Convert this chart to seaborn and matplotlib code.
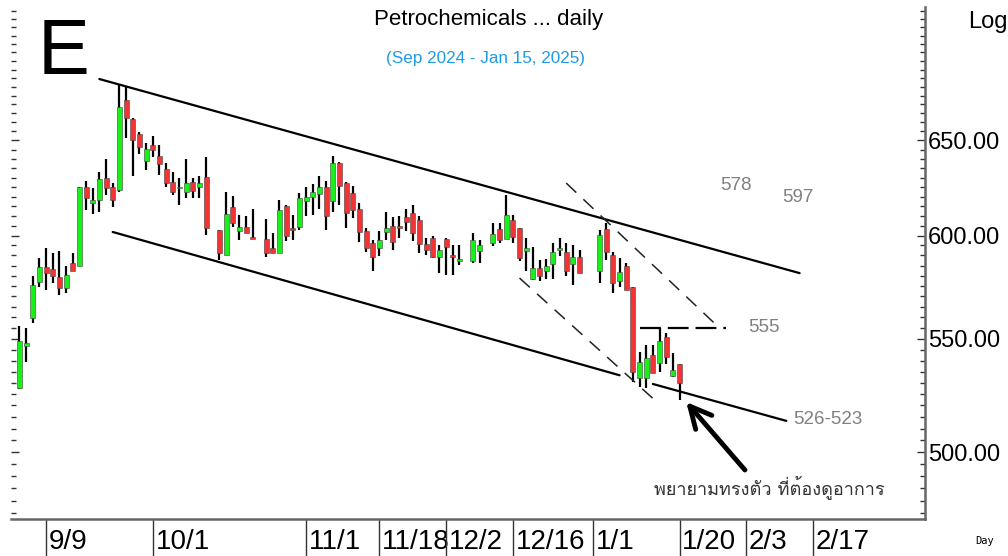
import numpy as np
import pandas as pd
import matplotlib
matplotlib.use("Agg")
import matplotlib.pyplot as plt
import matplotlib.ticker as mticker
from matplotlib import font_manager
from matplotlib.ft2font import FT2Font
from matplotlib.transforms import ScaledTranslation
import seaborn as sns

# daily candles (price, log scale)
dates = ["2024-09-03", "2024-09-04", "2024-09-05", "2024-09-06", "2024-09-09", "2024-09-10",
         "2024-09-11", "2024-09-12", "2024-09-13", "2024-09-16", "2024-09-17", "2024-09-18",
         "2024-09-19", "2024-09-20", "2024-09-23", "2024-09-24", "2024-09-25", "2024-09-26",
         "2024-09-27", "2024-09-30", "2024-10-01", "2024-10-02", "2024-10-03", "2024-10-04",
         "2024-10-07", "2024-10-08", "2024-10-09", "2024-10-10", "2024-10-11", "2024-10-15",
         "2024-10-16", "2024-10-17", "2024-10-18", "2024-10-21", "2024-10-22", "2024-10-24",
         "2024-10-25", "2024-10-28", "2024-10-29", "2024-10-30", "2024-10-31", "2024-11-01",
         "2024-11-04", "2024-11-05", "2024-11-06", "2024-11-07", "2024-11-08", "2024-11-11",
         "2024-11-12", "2024-11-13", "2024-11-14", "2024-11-15", "2024-11-18", "2024-11-19",
         "2024-11-20", "2024-11-21", "2024-11-22", "2024-11-25", "2024-11-26", "2024-11-27",
         "2024-11-28", "2024-11-29", "2024-12-02", "2024-12-03", "2024-12-04", "2024-12-06",
         "2024-12-09", "2024-12-11", "2024-12-12", "2024-12-13", "2024-12-16", "2024-12-17",
         "2024-12-18", "2024-12-19", "2024-12-20", "2024-12-23", "2024-12-24", "2024-12-25",
         "2024-12-26", "2024-12-27", "2024-12-30", "2025-01-02", "2025-01-03", "2025-01-06",
         "2025-01-07", "2025-01-08", "2025-01-09", "2025-01-10", "2025-01-13", "2025-01-14",
         "2025-01-15", "2025-01-16", "2025-01-17", "2025-01-20"]
opens = [527.7, 546.7, 559.7, 576.9, 584.3, 583.3, 579.4, 574.1, 586.3, 584.8, 625.0, 616.6,
         618.2, 629.8, 625.0, 623.4, 672.5, 661.9, 653.5, 638.9, 647.5, 641.5, 634.5, 627.6,
         624.5, 622.4, 627.6, 625.0, 630.3, 602.8, 590.2, 614.6, 602.3, 604.3, 599.2, 598.2,
         593.7, 591.2, 615.1, 603.8, 604.3, 617.7, 619.8, 621.3, 625.0, 617.7, 637.8, 627.1,
         621.8, 613.5, 602.3, 596.2, 593.7, 601.8, 604.8, 604.8, 609.4, 611.5, 607.9, 595.7,
         598.7, 589.2, 598.2, 590.2, 587.3, 587.3, 592.2, 596.2, 603.3, 598.2, 607.9, 603.8,
         592.2, 578.4, 583.8, 582.3, 585.8, 592.7, 591.7, 585.8, 589.2, 582.3, 603.3, 590.2,
         577.6, 584.8, 574.5, 532.2, 532.2, 542.6, 539.0, 550.9, 533.1, 538.5]
highs = [556.0, 555.0, 579.9, 588.8, 593.7, 591.2, 592.2, 584.8, 591.2, 625.0, 628.2, 624.5,
         633.0, 639.9, 627.1, 681.1, 679.9, 662.4, 654.6, 648.5, 652.4, 647.5, 637.8, 633.0,
         629.8, 639.9, 629.8, 630.8, 641.0, 602.8, 622.4, 620.2, 610.5, 609.9, 613.5, 608.4,
         601.3, 618.2, 615.6, 610.5, 621.8, 625.0, 626.6, 630.8, 628.2, 641.5, 638.3, 627.6,
         625.6, 616.6, 603.8, 597.7, 602.3, 612.0, 609.4, 609.9, 613.5, 615.6, 609.9, 598.7,
         599.7, 595.2, 598.7, 595.2, 595.2, 601.3, 597.7, 606.3, 606.3, 620.8, 610.5, 603.8,
         598.7, 594.2, 587.8, 588.3, 596.2, 598.7, 596.2, 595.2, 592.7, 602.8, 606.3, 591.7,
         588.8, 586.3, 574.5, 544.0, 547.2, 547.2, 555.0, 552.8, 543.3, 538.5]
lows = [527.2, 539.4, 557.4, 574.5, 573.1, 576.4, 570.7, 571.7, 582.3, 584.8, 613.0, 610.9,
        612.0, 620.8, 614.6, 622.4, 651.3, 630.8, 642.6, 634.0, 641.0, 631.3, 625.0, 620.8,
        615.6, 619.2, 619.2, 619.2, 600.3, 587.8, 590.2, 604.3, 597.7, 601.3, 598.2, 589.2,
        591.2, 591.2, 597.2, 597.7, 602.8, 609.9, 610.5, 613.5, 602.8, 612.0, 615.6, 603.8,
        608.9, 596.7, 591.7, 582.3, 589.7, 597.7, 592.7, 598.7, 602.3, 597.2, 591.2, 590.2,
        588.8, 581.3, 580.4, 580.4, 585.3, 586.3, 586.3, 594.7, 596.2, 598.2, 596.2, 587.3,
        582.3, 577.9, 577.6, 578.4, 578.4, 589.7, 579.9, 575.5, 581.3, 576.4, 587.8, 571.7,
        574.5, 573.1, 530.5, 528.1, 527.7, 534.5, 534.9, 538.5, 532.6, 522.4]
closes = [549.0, 548.1, 575.5, 584.3, 581.3, 579.9, 574.1, 580.4, 582.3, 625.0, 619.2, 618.2,
          629.2, 624.5, 618.2, 668.6, 662.4, 650.2, 646.4, 645.3, 644.8, 637.3, 627.1, 622.4,
          625.0, 627.1, 622.9, 627.1, 603.8, 591.2, 611.0, 606.3, 604.3, 601.3, 598.2, 591.2,
          591.2, 613.0, 599.7, 602.8, 619.2, 619.8, 622.4, 625.0, 609.9, 637.8, 625.6, 611.5,
          613.0, 601.8, 593.7, 589.2, 597.7, 603.8, 596.7, 603.8, 606.8, 601.3, 595.7, 592.7,
          589.2, 592.7, 594.2, 589.2, 588.3, 597.7, 595.2, 600.8, 597.7, 610.5, 599.2, 588.8,
          593.7, 583.8, 579.9, 584.8, 591.7, 593.7, 582.3, 589.2, 581.3, 600.3, 591.7, 576.4,
          582.0, 573.1, 534.9, 539.4, 541.2, 534.5, 549.0, 541.7, 535.8, 530.0]

# trend lines: (start date, start price, end date, end price)
channel_top = ("2024-09-19", 684.5, "2025-02-13", 581.3)
channel_bottom = ("2024-09-23", 601.8, "2025-01-07", 533.4)
support_line = ("2025-01-14", 529.5, "2025-02-11", 513.3)
dash_upper = ("2024-12-26", 627.1, "2025-01-28", 555.0)
dash_lower = ("2024-12-17", 578.9, "2025-01-14", 523.1)
resist_555 = ("2025-01-10", 555.0, "2025-01-29", 555.0)

tick_dates = ["2024-09-09", "2024-10-01", "2024-11-01", "2024-11-18", "2024-12-02",
              "2024-12-16", "2025-01-01", "2025-01-20", "2025-02-03", "2025-02-17"]
tick_labels = ["9/9", "10/1", "11/1", "11/18", "12/2", "12/16", "1/1", "1/20", "2/3", "2/17"]
y_ticks = [500, 550, 600, 650]

BASE = np.datetime64("2024-09-09")


def day_pos(d):
    # weekday index relative to 9/9 (holidays stay as gaps)
    return np.busday_count(BASE, np.array(d, dtype="datetime64[D]"))


def thai_font():
    # pick an installed font that has Thai glyphs
    for f in font_manager.fontManager.ttflist:
        try:
            if ord("พ") in FT2Font(f.fname).get_charmap():
                return f.name
        except Exception:
            continue
    return "DejaVu Sans"


sns.set_theme(style="white")
plt.rcParams["font.family"] = ["Liberation Sans", "DejaVu Sans"]
plt.rcParams["lines.scale_dashes"] = False
for key in ["text.color", "axes.labelcolor", "xtick.color", "ytick.color"]:
    plt.rcParams[key] = "black"

df = pd.DataFrame({"date": dates, "open": opens, "high": highs, "low": lows, "close": closes})
df["x"] = day_pos(df["date"].tolist())
df["up"] = df["close"] >= df["open"]

fig = plt.figure(figsize=(10.08, 5.56), dpi=100)
ax = fig.add_axes([11 / 1008, 1 - 519 / 556, 914 / 1008, 512 / 556])

ax.vlines(df["x"], df["low"], df["high"], color="black", lw=1.6, zorder=2)
body_lo = np.minimum(df["open"], df["close"])
body_hi = np.maximum(df["open"], df["close"])
colors = np.where(df["up"], "#19F019", "#F23434")
ax.bar(df["x"], body_hi - body_lo, bottom=body_lo, width=0.75, color=colors,
       edgecolor="#444444", linewidth=0.4, zorder=3)


def seg(line, **kw):
    d0, p0, d1, p1 = line
    ax.plot([day_pos(d0), day_pos(d1)], [p0, p1], **kw)


seg(channel_top, color="black", lw=1.6, zorder=4)
seg(channel_bottom, color="black", lw=1.6, zorder=4)
seg(support_line, color="black", lw=1.6, zorder=4)
seg(dash_upper, color="#222222", lw=1.1, ls=(0, (10, 7)), zorder=4)
seg(dash_lower, color="#222222", lw=1.1, ls=(0, (10, 7)), zorder=4)
seg(resist_555, color="black", lw=1.6, ls=(0, (15, 5)), zorder=4)

ax.set_yscale("log")
ax.set_ylim(472.6, 727.3)
ax.set_xlim(-5.25, 131.8)
ax.yaxis.set_major_locator(mticker.FixedLocator(y_ticks))
ax.yaxis.set_major_formatter(mticker.FormatStrFormatter("%.2f"))
ax.yaxis.set_minor_locator(mticker.FixedLocator([v for v in range(475, 730, 5) if v not in y_ticks]))
ax.yaxis.set_minor_formatter(mticker.NullFormatter())
ax.tick_params(axis="y", which="both", left=True, right=True, direction="in",
               labelleft=False, labelright=True, color="#333333", width=1)
ax.tick_params(axis="y", which="major", length=6, pad=2, labelsize=17, labelcolor="black")
ax.tick_params(axis="y", which="minor", length=3.5)

ax.set_xticks(day_pos(tick_dates))
ax.set_xticklabels(tick_labels)
ax.tick_params(axis="x", which="major", bottom=True, direction="out", length=27,
               width=1, color="#333333", pad=-20, labelsize=20, labelcolor="black")
for lab in ax.get_xticklabels():
    lab.set_horizontalalignment("left")
    lab.set_fontfamily(["Liberation Sans Narrow", "Liberation Sans", "DejaVu Sans"])
    lab.set_transform(lab.get_transform() + ScaledTranslation(2 / 72, 0, fig.dpi_scale_trans))

for side in ["top", "left"]:
    ax.spines[side].set_visible(False)
for side in ["right", "bottom"]:
    ax.spines[side].set_color("#666666")
    ax.spines[side].set_linewidth(1.8)


# texts
def px(x, y):
    return x / 1008, 1 - y / 556


fig.text(*px(489, 20), "Petrochemicals ... daily", fontsize=16, color="black", ha="center", va="center")
fig.text(*px(485, 58), "(Sep 2024 - Jan 15, 2025)", fontsize=12.3, color="#1E9BE8",
         ha="center", va="center")
fig.text(*px(38, 53), "E", fontsize=56, color="black", ha="left", va="center")
fig.text(*px(968, 22), "Log", fontsize=17, color="black", ha="left", va="center")
fig.text(*px(975, 541), "Day", fontsize=7.5, color="black", family="DejaVu Sans Mono",
         ha="left", va="center")

grey = "#808080"
fig.text(*px(736, 186), "578", fontsize=13.5, color=grey, ha="center", va="center")
fig.text(*px(798, 198), "597", fontsize=13.5, color=grey, ha="center", va="center")
fig.text(*px(764, 327), "555", fontsize=13.5, color=grey, ha="center", va="center")
fig.text(*px(828, 419), "526-523", fontsize=13.5, color=grey, ha="center", va="center")
fig.text(*px(769, 487), "พยายามทรงตัว ที่ต้องดูอาการ", fontsize=13, color="#333333",
         ha="center", va="center", family=[thai_font(), "DejaVu Sans"])

ax.annotate("", xy=(day_pos("2025-01-20") + 1.0, 521.5), xytext=(day_pos("2025-02-03") - 0.2, 492.5),
            arrowprops=dict(arrowstyle="->,head_length=0.7,head_width=0.35", lw=3.5,
                            color="black", mutation_scale=22, shrinkA=0, shrinkB=0))

fig.savefig("out.png", dpi=100)
